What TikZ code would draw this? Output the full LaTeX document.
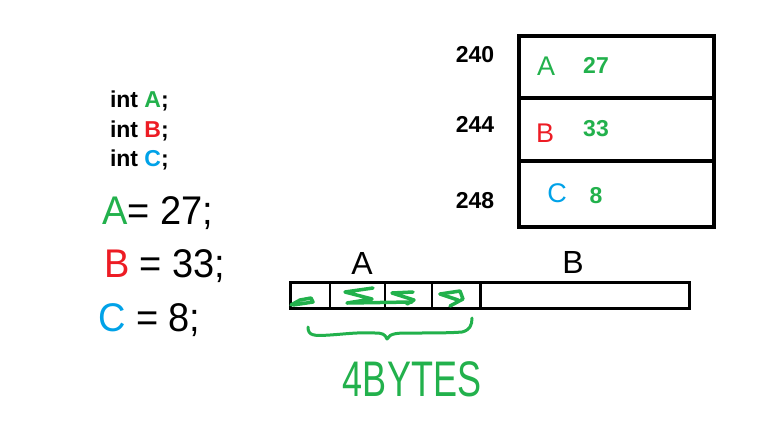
\documentclass[tikz,border=0pt]{standalone}
\usepackage{fontspec}
\setmainfont{Liberation Sans}
\definecolor{pgreen}{HTML}{22B14C}
\definecolor{pred}{HTML}{ED1C24}
\definecolor{pblue}{HTML}{00A2E8}
\begin{document}
\begin{tikzpicture}[x=1pt,y=-1pt,
  every node/.style={inner sep=0pt,outer sep=0pt},
  boldtxt/.style={font=\fontsize{23}{23}\selectfont\bfseries},
  addr/.style={font=\fontsize{23}{23}\selectfont\bfseries},
  val/.style={font=\fontsize{23}{23}\selectfont\bfseries},
  hand/.style={font=\fontsize{40}{40}\selectfont},
  handsm/.style={font=\fontsize{27}{27}\selectfont},
  cellline/.style={line width=4pt},
  barline/.style={line width=3pt},
  scrib/.style={pgreen,line width=3.5pt,line cap=round,line join=round},
  brace/.style={pgreen,line width=3pt,line cap=round,line join=round}]
\useasboundingbox[fill=white] (0,0) rectangle (768,432);

% declarations
\node[boldtxt,anchor=west] (decA) at (110,101) {int \textcolor{pgreen}{A};};
\node[boldtxt,anchor=west] (decB) at (110,131) {int \textcolor{pred}{B};};
\node[boldtxt,anchor=west] (decC) at (110,160) {int \textcolor{pblue}{C};};

% assignments
\node[hand,anchor=west,xscale=0.95] (asA) at (102,213) {\textcolor{pgreen}{A}= 27;};
\node[hand,anchor=west,xscale=0.95] (asB) at (104,266) {\textcolor{pred}{B} = 33;};
\node[hand,anchor=west,xscale=0.95] (asC) at (98,320) {\textcolor{pblue}{C} = 8;};

% memory cells
\draw[cellline] (519,36) rectangle (714,227);
\draw[cellline] (519,98) -- (714,98);
\draw[cellline] (519,161) -- (714,161);
\node[addr] (a240) at (475,55) {240};
\node[addr] (a244) at (475,124) {244};
\node[addr] (a248) at (475,201) {248};
\node[handsm,pgreen] (cA) at (546,66) {A};
\node[val,pgreen] (v27) at (596,65) {27};
\node[handsm,pred] (cB) at (545,133) {B};
\node[val,pgreen] (v33) at (596,129) {33};
\node[handsm,pblue] (cC) at (557,193) {C};
\node[val,pgreen] (v8) at (596,196) {8};

% byte bar
\draw[barline] (290,282) rectangle (689,308);
\draw[line width=1.5pt] (330,282) -- (330,308);
\draw[line width=1.5pt] (385,282) -- (385,308);
\draw[line width=1.5pt] (432,282) -- (432,308);
\draw[barline] (480,282) -- (480,308);
\node[font=\fontsize{32}{32}\selectfont] (lA) at (362,263) {A};
\node[font=\fontsize{32}{32}\selectfont] (lB) at (573,262) {B};

% green scribbles
\draw[scrib] (291,305) -- (300,300) -- (311,298) -- (313,302) -- (293,305);
\draw[scrib] (373,288) -- (345,292) -- (372,299) -- (347,303) -- (412,302);
\draw[scrib] (413,292) -- (392,293) -- (414,300) -- (407,304);
\draw[scrib] (440,294) -- (460,291) -- (463,299) -- (450,306);
\draw[scrib] (440,294) -- (458,300);

% brace
\draw[brace] (308,327) .. controls (308,336) and (314,336) .. (330,335)
  .. controls (345,334) and (360,332) .. (375,333)
  .. controls (382,333) and (385,334) .. (387,339)
  .. controls (390,333) and (398,333) .. (410,333)
  .. controls (430,333) and (450,333) .. (462,332)
  .. controls (470,330) and (472,325) .. (472,318);
\node[pgreen,font=\fontsize{40}{40}\selectfont,xscale=0.9,yscale=1.25] (bytes) at (412,379) {4BYTES};
\end{tikzpicture}
\end{document}
